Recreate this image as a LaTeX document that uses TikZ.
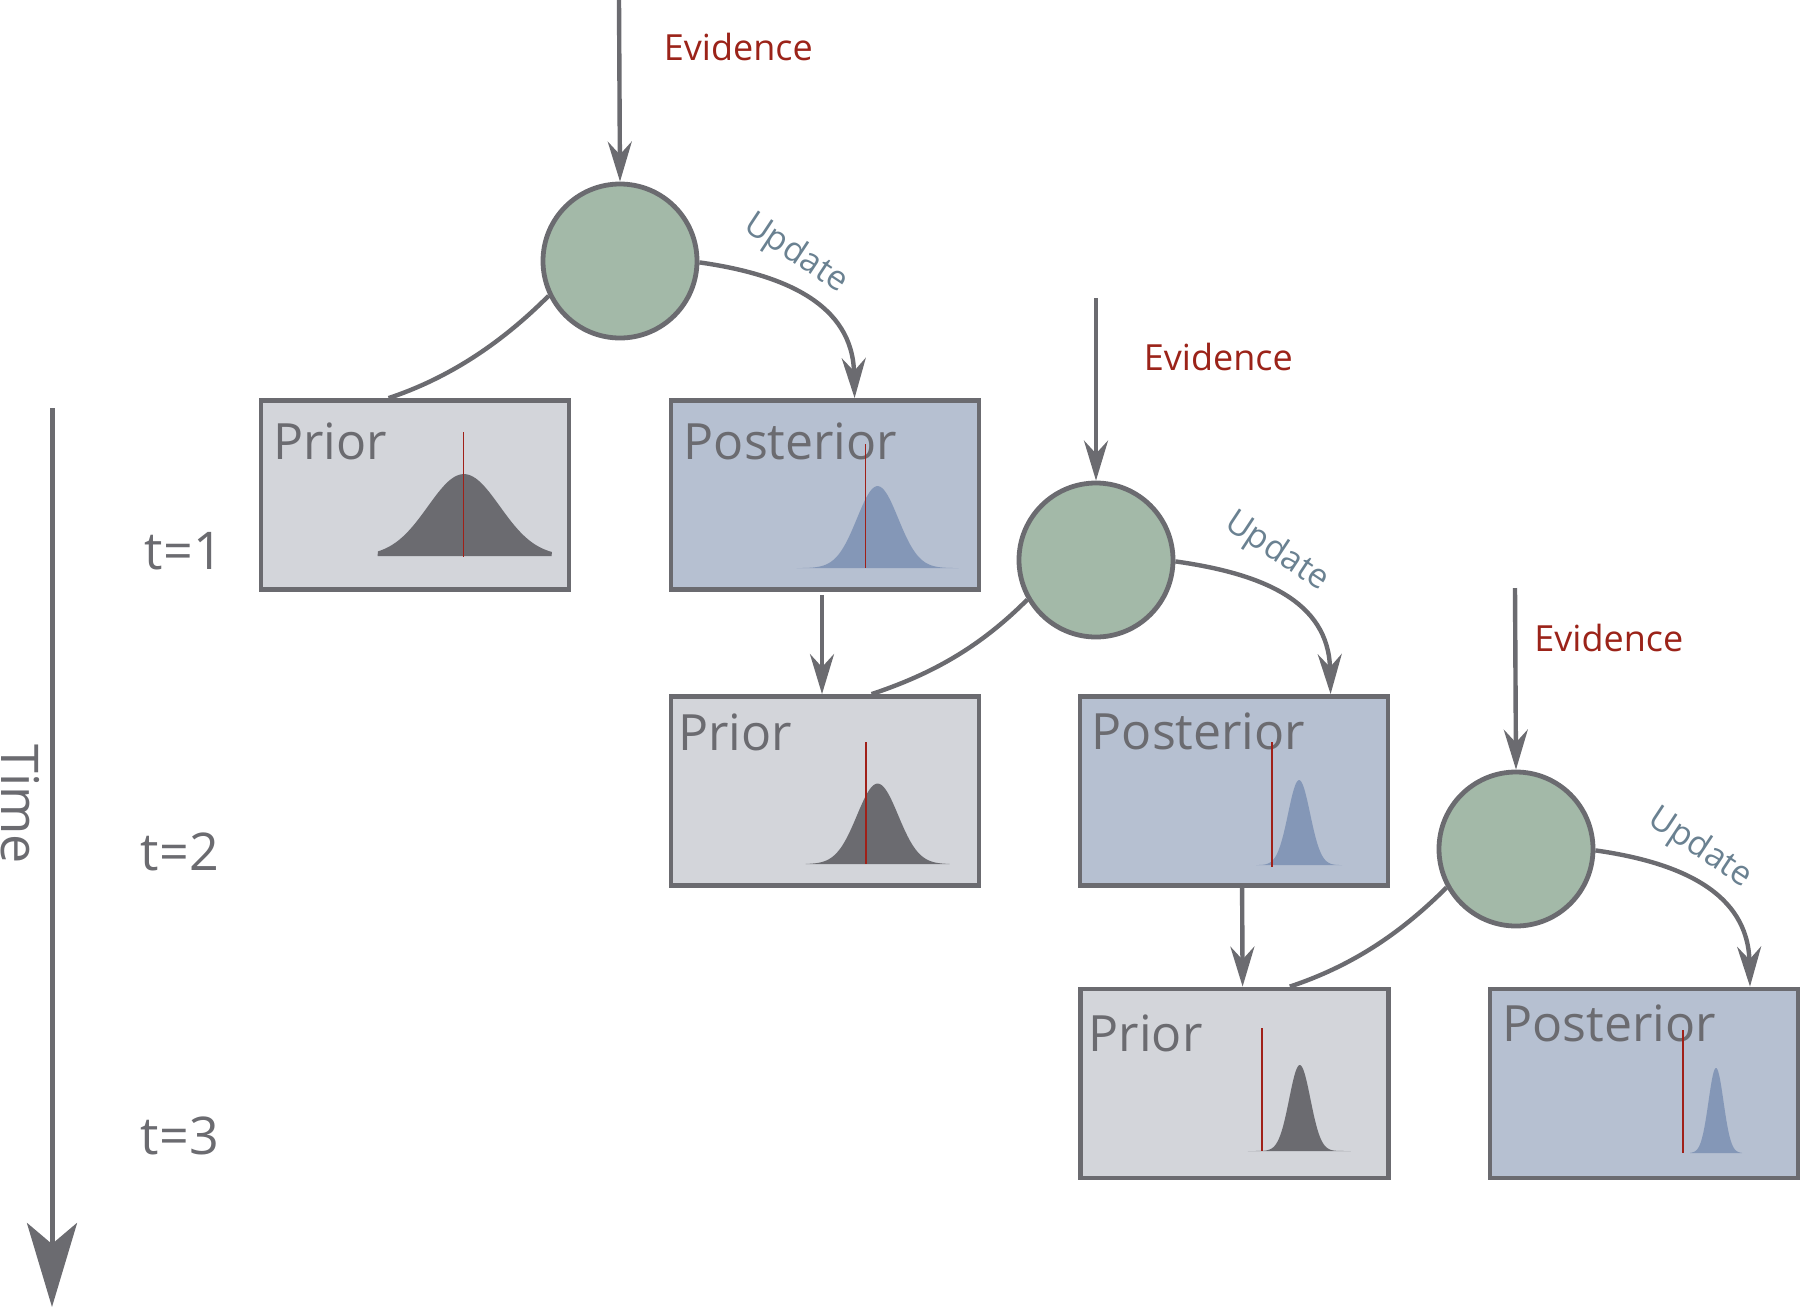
\documentclass[tikz,border=0pt]{standalone}
\usepackage{fontspec}
\setmainfont{Open Sans}
\usetikzlibrary{arrows.meta,calc}
\definecolor{lg}{HTML}{6B6B70}
\definecolor{circf}{HTML}{A3B9A8}
\definecolor{priorf}{HTML}{D3D5DA}
\definecolor{postf}{HTML}{B6C0D1}
\definecolor{postc}{HTML}{8497B7}
\definecolor{evred}{HTML}{9B2319}
\definecolor{upd}{HTML}{6A8191}
\definecolor{redl}{HTML}{A02018}
\tikzset{
  circ/.style={circle,draw=lg,fill=circf,line width=2.4pt,minimum size=77pt,inner sep=0pt},
  boxbase/.style={rectangle,draw=lg,line width=2.4pt,minimum width=154pt,minimum height=94.5pt,inner sep=0pt},
  priorbox/.style={boxbase,fill=priorf},
  postbox/.style={boxbase,fill=postf},
  arr/.style={draw=lg,line width=2.2pt,-{Stealth[length=20pt,width=12pt,inset=6.5pt]}},
  link/.style={draw=lg,line width=2.2pt},
  timearr/.style={draw=lg,line width=2.5pt,-{Stealth[length=42pt,width=25pt,inset=10.5pt]}},
  boxlabel/.style={anchor=base west,inner sep=0pt,text=lg,font=\fontsize{25pt}{30pt}\selectfont},
  tlabel/.style={anchor=base west,inner sep=0pt,text=lg,font=\fontsize{26pt}{30pt}\selectfont},
  evlabel/.style={anchor=base west,inner sep=0pt,text=evred,font=\fontsize{18pt}{22pt}\selectfont},
  uplabel/.style={inner sep=0pt,text=upd,rotate=-33.5,font=\fontsize{17pt}{20pt}\selectfont},
  redline/.style={draw=redl,line width=0.75pt},
  priorcurve/.style={fill=lg},
  postcurve/.style={fill=postc}
}
\begin{document}
\begin{tikzpicture}[x=0.5pt,y=-0.5pt]
\useasboundingbox (0,0) rectangle (1801,1308);

% circles
\node[circ] (c1) at (620,261) {};
\node[circ] (c2) at (1096,560) {};
\node[circ] (c3) at (1516,849) {};

% boxes
\node[priorbox] (pr1) at (415,495) {};
\node[postbox]  (po1) at (825,495) {};
\node[priorbox] (pr2) at (825,791) {};
\node[postbox]  (po2) at (1234,791) {};
\node[priorbox] (pr3) at (1234.5,1083.5) {};
\node[postbox]  (po3) at (1644,1083.5) {};

% box contents
\begin{scope}[shift={(pr1.north west)}]
  \node[boxlabel] (lpr1) at (14,61) {Prior};
  \fill[priorcurve] (119,158) -- plot[domain=-86:88,samples=90] ({205.3+\x},{158-82*exp(-(\x)^2/(2*36^2))}) -- (293,158) -- cycle;
  \draw[redline] (205,34) -- (205,159);
\end{scope}
\begin{scope}[shift={(po1.north west)}]
  \node[boxlabel] (lpo1) at (14.7,61) {Posterior};
  \fill[postcurve] (128,170) -- plot[domain=-81:81,samples=90] ({209+\x},{170-82*exp(-(\x)^2/(2*20.6^2))}) -- (290,170) -- cycle;
  \draw[redline] (197,46) -- (197,170);
\end{scope}
\begin{scope}[shift={(pr2.north west)}]
  \node[boxlabel] (lpr2) at (9.3,56) {Prior};
  \fill[priorcurve] (137,170) -- plot[domain=-72:72,samples=90] ({209+\x},{170-80.5*exp(-(\x)^2/(2*20.6^2))}) -- (281,170) -- cycle;
  \draw[redline] (197.6,48) -- (197.6,170);
\end{scope}
\begin{scope}[shift={(po2.north west)}]
  \node[boxlabel] (lpo2) at (13.7,55) {Posterior};
  \fill[postcurve] (178.5,171) -- plot[domain=-43:43,samples=90] ({221.5+\x},{171-85*exp(-(\x)^2/(2*11^2))}) -- (264.5,171) -- cycle;
  \draw[redline] (194.5,48) -- (194.5,173);
\end{scope}
\begin{scope}[shift={(pr3.north west)}]
  \node[boxlabel] (lpr3) at (10.2,64.4) {Prior};
  \fill[priorcurve] (169.7,164.4) -- plot[domain=-52:51,samples=90] ({221.7+\x},{164.4-86*exp(-(\x)^2/(2*10.6^2))}) -- (272.7,164.4) -- cycle;
  \draw[redline] (183.7,41.4) -- (183.7,164.4);
\end{scope}
\begin{scope}[shift={(po3.north west)}]
  \node[boxlabel] (lpo3) at (14.5,55) {Posterior};
  \fill[postcurve] (202.4,166.4) -- plot[domain=-26:26,samples=90] ({228.4+\x},{166.4-85*exp(-(\x)^2/(2*7.5^2))}) -- (254.4,166.4) -- cycle;
  \draw[redline] (195.4,43.4) -- (195.4,166.4);
\end{scope}

% evidence arrows
\coordinate (e1) at (619,0);
\coordinate (e2) at (1096,298);
\coordinate (e3) at (1515,588);
\draw[arr] (e1) -- (c1.north);
\draw[arr] (e2) -- (c2.north);
\draw[arr] (e3) -- (c3.north);
\node[evlabel] (ev1) at (663.5,60) {Evidence};
\node[evlabel] (ev2) at (1143.5,370) {Evidence};
\node[evlabel] (ev3) at (1534,651.7) {Evidence};

% update arrows
\draw[arr] (c1.-1) .. controls +(85,12) and +(-2,-94) .. ($(po1.north west)+(186,0)$);
\draw[arr] (c2.-1) .. controls +(85,12) and +(-2,-94) .. ($(po2.north west)+(253,0)$);
\draw[arr] (c3.-1) .. controls +(85,12) and +(-2,-94) .. ($(po3.north west)+(262.4,0)$);
\node[uplabel] (u1) at (795.5,254) {Update};
\node[uplabel] (u2) at (1276.5,552) {Update};
\node[uplabel] (u3) at (1700,848.5) {Update};

% prior links
\draw[link] (c1.206) .. controls +(-48,48) and +(60,-20) .. ($(pr1.north west)+(130,0)$);
\draw[link] (c2.210) .. controls +(-48,48) and +(60,-20) .. ($(pr2.north west)+(203,0)$);
\draw[link] (c3.209) .. controls +(-48,48) and +(60,-20) .. ($(pr3.north west)+(211.7,0)$);

% posterior -> next prior
\draw[arr] ($(po1.south west)+(153.4,3)$) -- ($(pr2.north west)+(153.4,0)$);
\draw[arr] ($(po2.south west)+(164.5,0)$) -- ($(pr3.north west)+(164.5,0)$);

% time axis
\coordinate (ta) at (52,408);
\coordinate (tb) at (52,1307);
\draw[timearr] (ta) -- (tb);
\node[anchor=base west,inner sep=0pt,text=lg,rotate=-90,font=\fontsize{26pt}{30pt}\selectfont] (time) at (1.5,744) {Time};
\node[tlabel] (t1) at (144.5,569) {t=1};
\node[tlabel] (t2) at (140.5,870) {t=2};
\node[tlabel] (t3) at (140.5,1154) {t=3};
\end{tikzpicture}
\end{document}
